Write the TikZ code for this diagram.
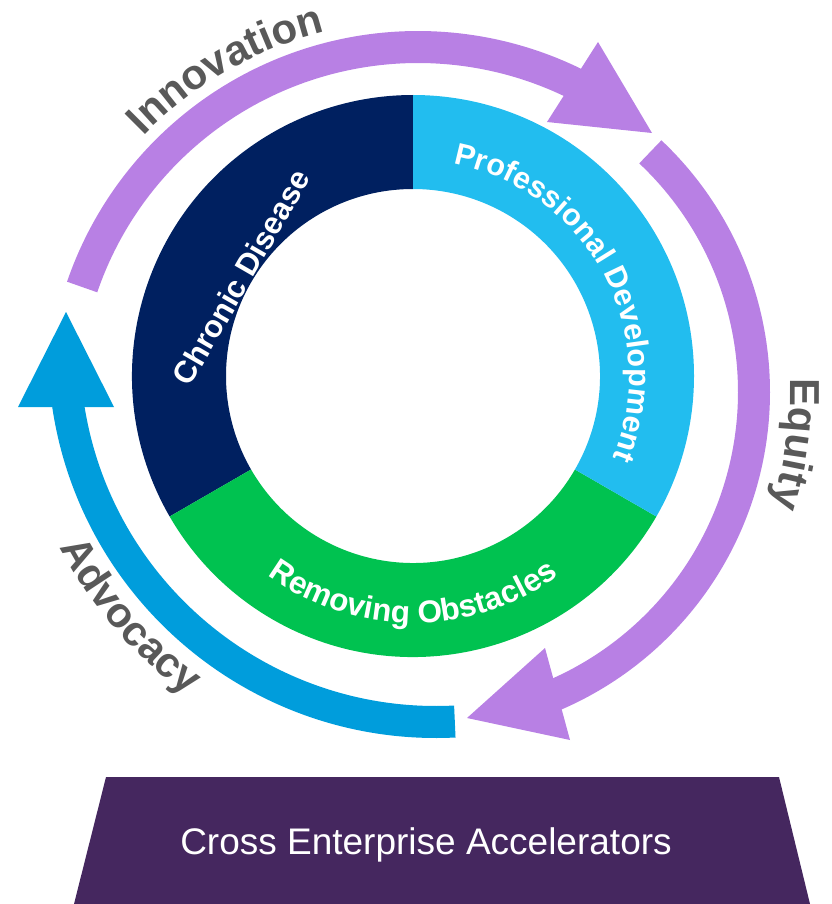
\documentclass[tikz,border=0pt]{standalone}
\usepackage{fontspec}
\setmainfont{Liberation Sans}
\usetikzlibrary{decorations.text,calc}
\definecolor{navy}{HTML}{002060}
\definecolor{skyb}{HTML}{22BDEF}
\definecolor{grn}{HTML}{00C250}
\definecolor{lilac}{HTML}{B880E4}
\definecolor{arrblue}{HTML}{009DDC}
\definecolor{greytxt}{HTML}{595959}
\definecolor{plum}{HTML}{45275F}
\newcommand\ringfont{\bfseries\fontsize{31.5}{36}\selectfont}
\newcommand\profont{\bfseries\fontsize{30.5}{36}\selectfont}
\newcommand\chrfont{\bfseries\fontsize{31}{36}\selectfont}
\newcommand\labfont{\bfseries\fontsize{42}{48}\selectfont}
\tikzset{
  shaft/.style={line width=32pt},
  ringtext/.style={decorate, decoration={text along path, text align=center, text color=white, text={|\ringfont|#1}}},
  protext/.style={decorate, decoration={text along path, text align=center, text color=white, text={|\profont|#1}}},
  labtext/.style={decorate, decoration={text along path, text align=center, text color=greytxt, text={|\labfont|#1}}}
}
\begin{document}
\begin{tikzpicture}[x=1pt,y=-1pt]
\useasboundingbox (0,0) rectangle (831,904);
% ring
\begin{scope}[shift={(413,376)}]
\fill[navy] (-210:281) arc[start angle=-210, end angle=-90, radius=281] -- (-90:187) arc[start angle=-90, end angle=-210, radius=187] -- cycle;
\fill[grn] (30:281) arc[start angle=30, end angle=150, radius=281] -- (150:187) arc[start angle=150, end angle=30, radius=187] -- cycle;
\fill[skyb] (-90:281) arc[start angle=-90, end angle=30, radius=281] -- (30:187) arc[start angle=30, end angle=-90, radius=187] -- cycle;
\path[protext={Professional Development}] (-98.5:216) arc[start angle=-98.5, end angle=41.5, radius=216];
\path[ringtext={Removing Obstacles}] (150:247) arc[start angle=150, end angle=30, radius=247];
\end{scope}
\node[rotate=60, text=white, font=\chrfont, inner sep=0pt] (chronic) at (241,277) {Chronic Disease};
% top purple arrow
\draw[lilac, shaft] ([shift={(-161.1:355)}]418,402) arc[start angle=-161.1, end angle=-62.5, radius=355];
\fill[lilac] (598,42) -- (652,133) -- (547,122) -- cycle;
% right purple arrow
\draw[lilac, shaft] ([shift={(-46.7:330)}]424,392) arc[start angle=-46.7, end angle=67.5, radius=330];
\fill[lilac] (545,648) -- (570,740) -- (467,718) -- cycle;
% blue arrow
\draw[arrblue, shaft] ([shift={(87.1:372)}]436,350) arc[start angle=87.1, end angle=172.5, radius=372];
\fill[arrblue] (18,407) -- (114,407) -- (66,312) -- cycle;
% labels
\begin{scope}[shift={(418,402)}]
\path[labtext={Innovation}] (-155:382) arc[start angle=-155, end angle=-85, radius=382];
\end{scope}
\begin{scope}[shift={(424,392)}]
\path[labtext={Equity}] (-27:366) arc[start angle=-27, end angle=43, radius=366];
\end{scope}
\begin{scope}[shift={(436,350)}]
\path[labtext={Advocacy}] (169:425) arc[start angle=169, end angle=109, radius=425];
\end{scope}
% base
\fill[plum] (106,777) -- (779,777) -- (810,904) -- (74,904) -- cycle;
\node[text=white, font=\fontsize{37}{44}\selectfont] (cea) at (426,845) {Cross Enterprise Accelerators};
\end{tikzpicture}
\end{document}
